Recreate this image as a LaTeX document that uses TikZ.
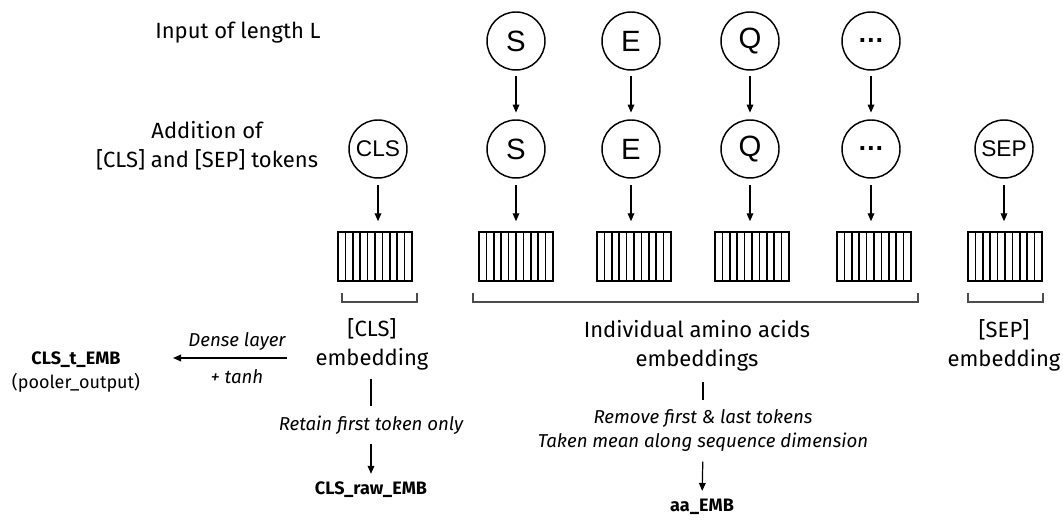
\documentclass[tikz,border=0pt]{standalone}
\usepackage{fontspec}
\setmainfont{Fira Sans}
\newfontfamily\tokfont{Liberation Sans}
\usetikzlibrary{arrows.meta}

\begin{document}
\begin{tikzpicture}[x=0.75pt,y=-0.75pt,
  tok/.style={circle,draw,line width=1.1pt,minimum size=43.5pt,inner sep=0pt,
    font=\tokfont\fontsize{22}{24}\selectfont},
  tokwide/.style={tok,font=\tokfont\fontsize{17}{20}\selectfont},
  embbox/.style={draw,line width=1.1pt,minimum width=55.5pt,minimum height=36.75pt,inner sep=0pt,
    path picture={\foreach \k in {1,...,9}{
      \draw[line width=1.1pt] ([xshift=\k*5.55pt]path picture bounding box.south west)
        -- ([xshift=\k*5.55pt]path picture bounding box.north west);}}},
  arr/.style={-{Triangle[length=6pt,width=5pt]},line width=0.9pt},
  plain/.style={line width=0.9pt},
  lbl/.style={align=center,font=\fontsize{16.5}{21.75}\selectfont,inner sep=0pt},
  note/.style={align=center,font=\itshape\fontsize{14}{18}\selectfont,inner sep=0pt},
  outlbl/.style={align=center,font=\fontsize{13.5}{18}\selectfont,inner sep=0pt},
  bracket/.style={draw=black!70,line width=0.8pt}
]
\useasboundingbox[fill=white] (0,0) rectangle (1063,523);

% side captions
\node[lbl] (inlbl) at (238,33) {Input of length L};
\node[lbl] (addlbl) at (207,145.5) {Addition of\\{}[CLS] and [SEP] tokens};

% input tokens
\node[tok] (t1) at (516,41) {S};
\node[tok] (t2) at (631,41) {E};
\node[tok] (t3) at (750,41) {Q};
\node[tok] (t4) at (871,41) {\bfseries\fontsize{20}{20}\selectfont …};

% tokens with special tokens added
\node[tokwide] (c0) at (378,149) {CLS};
\node[tok] (c1) at (516,149) {S};
\node[tok] (c2) at (631,149) {E};
\node[tok] (c3) at (750,149) {Q};
\node[tok] (c4) at (871,149) {\bfseries\fontsize{20}{20}\selectfont …};
\node[tokwide] (c5) at (1004,149) {SEP};

% embedding vectors
\node[embbox] (e0) at (375,256.5) {};
\node[embbox] (e1) at (516,256.5) {};
\node[embbox] (e2) at (634,256.5) {};
\node[embbox] (e3) at (752,256.5) {};
\node[embbox] (e4) at (874,256.5) {};
\node[embbox] (e5) at (1005,256.5) {};

% token arrows
\foreach \i in {1,...,4}
  \draw[arr,shorten <=3.75pt,shorten >=5pt] (t\i) -- (c\i);
\foreach \i in {0,...,5}
  \draw[arr,shorten <=5pt,shorten >=7.5pt] (c\i.south) -- (c\i.south |- e\i.north);

% group brackets
\draw[bracket] (342,293) -- (342,302) -- (417,302) -- (417,293);
\draw[bracket] (473,293) -- (473,302) -- (918,302) -- (918,293);
\draw[bracket] (968,293) -- (968,302) -- (1043,302) -- (1043,293);

% group captions
\node[lbl] (clsemb) at (372,344.5) {[CLS]\\embedding};
\node[lbl] (aaemb) at (697,345.5) {Individual amino acids\\embeddings};
\node[lbl] (sepemb) at (1004,345.5) {[SEP]\\embedding};

% pooler branch
\coordinate (dlA) at (287,358);
\coordinate (dlB) at (173,358);
\draw[arr] (dlA) -- (dlB);
\node[note] (dense) at (237,341) {Dense layer};
\node[note] (tanh) at (237,377) {+ tanh};
\node[outlbl] (clst) at (76,372) {\textbf{CLS\_t\_EMB}\\(pooler\_output)};

% raw CLS branch
\node[note] (retain) at (371,425) {Retain first token only};
\node[outlbl] (clsraw) at (371,490) {\textbf{CLS\_raw\_EMB}};
\draw[plain,shorten <=6pt,shorten >=7pt] (clsemb.south -| retain) -- (retain.north);
\draw[arr,shorten <=7pt,shorten >=6pt] (retain.south) -- (clsraw.north);

% mean pooling branch
\node[note] (meannote) at (703,431) {Remove first \& last tokens\\Taken mean along sequence dimension};
\node[outlbl] (aa) at (702,507) {\textbf{aa\_EMB}};
\draw[plain,shorten <=8pt,shorten >=7pt] (aaemb.south -| meannote) -- (meannote.north);
\draw[arr,shorten <=7pt,shorten >=6pt] (meannote.south) -- (aa.north);
\end{tikzpicture}
\end{document}
